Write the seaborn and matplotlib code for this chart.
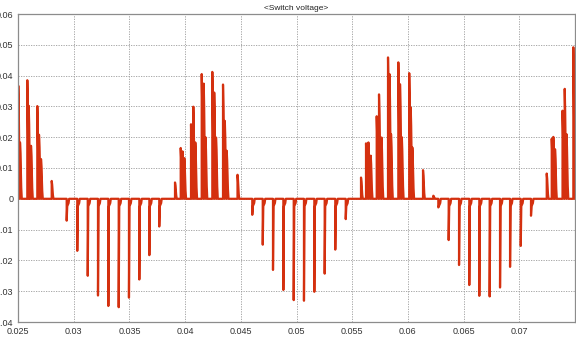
import numpy as np
import pandas as pd
import seaborn as sns
import matplotlib.pyplot as plt

# Positive spikes (time in s, value)
pos_t = [0.025027, 0.025180, 0.025835, 0.025961, 0.026167, 0.026733, 0.026885, 0.027065, 0.028025,
         0.039094, 0.039606, 0.039767, 0.039929, 0.040530, 0.040737, 0.040916, 0.041491, 0.041670,
         0.041832, 0.042442, 0.042613, 0.042774, 0.043403, 0.043564, 0.043735, 0.044704,
         0.055791, 0.056240, 0.056455, 0.056662, 0.057200, 0.057407, 0.057631, 0.058215, 0.058350,
         0.058484, 0.059140, 0.059292, 0.059454, 0.060118, 0.060253, 0.060396, 0.061357, 0.062282,
         0.072462, 0.072911, 0.073054, 0.073207, 0.073880, 0.074077, 0.074239, 0.074850]
pos_v = [0.0367, 0.0183, 0.0385, 0.0302, 0.0172, 0.0301, 0.0208, 0.0129, 0.0058,
         0.0053, 0.0165, 0.0154, 0.0132, 0.0242, 0.0299, 0.0183, 0.0405, 0.0374,
         0.0200, 0.0412, 0.0345, 0.0199, 0.0371, 0.0253, 0.0156, 0.0078,
         0.0069, 0.0180, 0.0183, 0.0140, 0.0268, 0.0339, 0.0199, 0.0459, 0.0405,
         0.0210, 0.0443, 0.0372, 0.0200, 0.0408, 0.0296, 0.0167, 0.0093, 0.0010,
         0.0082, 0.0195, 0.0201, 0.0161, 0.0286, 0.0357, 0.0210, 0.0492]

# Negative spikes
neg_t = [0.02937, 0.03032, 0.03126, 0.03218, 0.03311, 0.03404, 0.03496, 0.03589, 0.03679, 0.03768,
         0.04603, 0.04697, 0.04789, 0.04882, 0.04975, 0.05067, 0.05160, 0.05253, 0.05348, 0.05442,
         0.06273, 0.06366, 0.06459, 0.06551, 0.06641, 0.06734, 0.06827, 0.06917, 0.07013, 0.07105]
neg_v = [-0.0071, -0.0169, -0.0250, -0.0314, -0.0348, -0.0352, -0.0321, -0.0262, -0.0183, -0.0090,
         -0.0052, -0.0149, -0.0231, -0.0296, -0.0329, -0.0331, -0.0302, -0.0243, -0.0165, -0.0066,
         -0.0028, -0.0134, -0.0215, -0.0280, -0.0315, -0.0317, -0.0288, -0.0221, -0.0153, -0.0055]

x_ticks = [0.025, 0.03, 0.035, 0.04, 0.045, 0.05, 0.055, 0.06, 0.065, 0.07]
x_labels = ["0.025", "0.03", "0.035", "0.04", "0.045", "0.05", "0.055", "0.06", "0.065", "0.07"]
y_ticks = [-0.04, -0.03, -0.02, -0.01, 0, 0.01, 0.02, 0.03, 0.04, 0.05, 0.06]
y_labels = ["-0.04", "-0.03", "-0.02", "-0.01", "0", "0.01", "0.02", "0.03", "0.04", "0.05", "0.06"]

# build the trace: each spike becomes a short pulse on the zero line
events = sorted([(t, v, 1) for t, v in zip(pos_t, pos_v)] + [(t, v, -1) for t, v in zip(neg_t, neg_v)])
xs, ys = [0.025], [0.0]
for t, v, s in events:
    if s > 0:
        xs += [t, t, t + 0.00004, t + 0.00011, t + 0.00016]
        ys += [0.0, v, 0.8 * v, 0.2 * v, 0.0]
    else:
        xs += [t, t, t + 0.00005, t + 0.00017, t + 0.00022]
        ys += [0.0, v, -0.0024, -0.0014, 0.0]
xs.append(0.075)
ys.append(ys[-1])
df = pd.DataFrame({"time": xs, "volt": ys})

sns.set_theme(style="white")
plt.rcParams['font.family'] = ['Liberation Sans', 'DejaVu Sans']

fig = plt.figure(figsize=(5.76, 3.38), dpi=100)
ax = fig.add_axes([18 / 576, 1 - 322 / 338, 557 / 576, 308 / 338])
sns.lineplot(data=df, x="time", y="volt", sort=False, estimator=None,
             color="#d4300f", linewidth=1.6, ax=ax)

ax.set_xlim(0.025, 0.075)
ax.set_ylim(-0.04, 0.06)
ax.set_xticks(x_ticks)
ax.set_xticklabels(x_labels)
ax.set_yticks(y_ticks)
ax.set_yticklabels(y_labels)
ax.tick_params(length=0, labelsize=6.5, colors="#333333", pad=3.5)
ax.grid(True, linestyle=(0, (1.5, 1.5)), color="#9a9a9a", linewidth=0.6)
ax.set_axisbelow(True)
for sp in ax.spines.values():
    sp.set_color("#8c8c8c")
    sp.set_linewidth(0.9)
ax.set_xlabel("")
ax.set_ylabel("")
ax.set_title("<Switch voltage>", fontsize=6, pad=3, color="#222222")

fig.savefig("out.png", dpi=100)
